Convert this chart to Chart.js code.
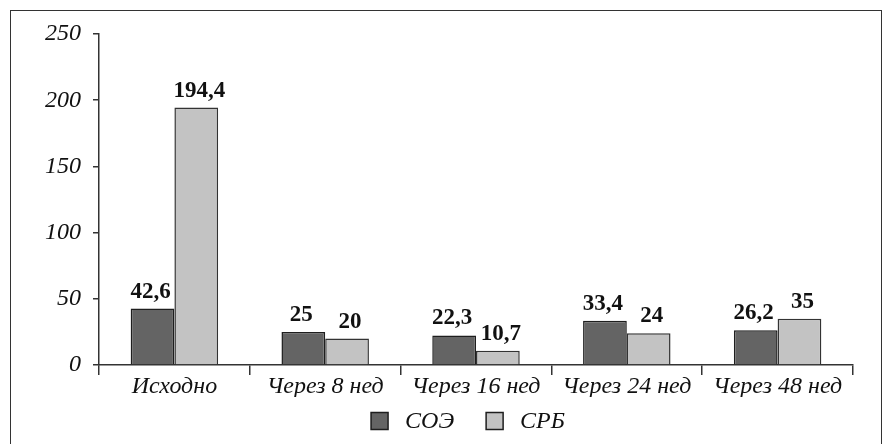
<!DOCTYPE html>
<html>
<head>
<meta charset="utf-8">
<script src="https://cdn.jsdelivr.net/npm/chart.js@4"></script>
<style>
  html, body { margin: 0; padding: 0; background: #fff; }
  #wrap { width: 883px; height: 444px; position: relative; }
</style>
</head>
<body>
<div id="wrap"><canvas id="chart" width="883" height="444"></canvas></div>
<script>
// données
const categories = ['Исходно', 'Через 8 нед', 'Через 16 нед', 'Через 24 нед', 'Через 48 нед'];
const soe = [42.6, 25, 22.3, 33.4, 26.2];
const crp = [194.4, 20, 10.7, 24, 35];
const yTicks = [0, 50, 100, 150, 200, 250];

const serif = '"Liberation Serif", "Times New Roman", serif';

// cadre autour du graphique
const framePlugin = {
    id: 'frame',
    beforeDraw(chart) {
        const ctx = chart.ctx;
        ctx.save();
        ctx.fillStyle = '#fff';
        ctx.fillRect(0, 0, chart.width, chart.height);
        ctx.strokeStyle = '#333';
        ctx.lineWidth = 1;
        ctx.strokeRect(10.5, 10.5, 871, 460);
        ctx.restore();
    }
};

// valeurs au-dessus des barres
const valuePlugin = {
    id: 'values',
    afterDatasetsDraw(chart) {
        const ctx = chart.ctx;
        ctx.save();
        ctx.font = 'bold 23px ' + serif;
        ctx.fillStyle = '#111';
        ctx.textAlign = 'center';
        ctx.textBaseline = 'alphabetic';
        chart.data.datasets.forEach(function(ds, i) {
            chart.getDatasetMeta(i).data.forEach(function(bar, j) {
                const txt = String(ds.data[j]).replace('.', ',');
                // les étiquettes de la 2e série sont légèrement décalées à droite
                const dx = i === 1 ? 3 : -2;
                ctx.fillText(txt, bar.x + dx, bar.y - 11);
            });
        });
        ctx.restore();
    }
};

// légende en bas (espacement plus large que celle de Chart.js)
const legendPlugin = {
    id: 'bottomLegend',
    afterDraw(chart) {
        const ctx = chart.ctx;
        const box = 17, gapText = 17, gapItem = 32;
        ctx.save();
        ctx.font = 'italic 24px ' + serif;
        ctx.textBaseline = 'middle';
        ctx.textAlign = 'left';
        const items = chart.data.datasets.map(function(ds) {
            return { ds: ds, w: ctx.measureText(ds.label).width };
        });
        let total = 0;
        items.forEach(function(it, i) {
            total += box + gapText + it.w + (i > 0 ? gapItem : 0);
        });
        const area = chart.chartArea;
        let x = (area.left + area.right) / 2 - total / 2 - 8;
        const cy = 421;
        items.forEach(function(it) {
            ctx.fillStyle = it.ds.backgroundColor;
            ctx.fillRect(x, cy - box / 2, box, box);
            ctx.strokeStyle = '#1e1e1e';
            ctx.lineWidth = 1.5;
            ctx.strokeRect(x, cy - box / 2, box, box);
            ctx.fillStyle = '#111';
            ctx.fillText(it.ds.label, x + box + gapText, cy + 1);
            x += box + gapText + it.w + gapItem;
        });
        ctx.restore();
    }
};

new Chart(document.getElementById('chart').getContext('2d'), {
    type: 'bar',
    data: {
        labels: categories,
        datasets: [{
            label: 'СОЭ',
            data: soe,
            backgroundColor: '#646464',
            borderColor: '#1e1e1e',
            borderWidth: 1.5
        }, {
            label: 'СРБ',
            data: crp,
            backgroundColor: '#c3c3c3',
            borderColor: '#333',
            borderWidth: 1.5
        }]
    },
    options: {
        responsive: false,
        animation: false,
        categoryPercentage: 0.58,
        barPercentage: 1,
        layout: { padding: { top: 34, right: 30, left: 20, bottom: 47 } },
        plugins: {
            legend: { display: false },
            tooltip: { enabled: false }
        },
        scales: {
            x: {
                afterFit(axis) { axis.height = 32; },
                grid: {
                    offset: true,
                    drawOnChartArea: false,
                    drawTicks: true,
                    tickLength: 10,
                    color: '#333',
                    lineWidth: 1.5
                },
                border: { color: '#333', width: 1.5 },
                ticks: {
                    color: '#111',
                    padding: 0,
                    maxRotation: 0,
                    font: { family: serif, size: 24, style: 'italic', lineHeight: 1 }
                }
            },
            y: {
                min: 0,
                max: 250,
                afterBuildTicks(axis) {
                    axis.ticks = yTicks.map(function(v) { return { value: v }; });
                },
                afterFit(axis) { axis.width = 79; },
                grid: {
                    drawOnChartArea: false,
                    drawTicks: true,
                    tickLength: 6,
                    color: '#333',
                    lineWidth: 1.5
                },
                border: { color: '#333', width: 1.5 },
                ticks: {
                    color: '#111',
                    padding: 12,
                    font: { family: serif, size: 24, style: 'italic' }
                }
            }
        }
    },
    plugins: [framePlugin, valuePlugin, legendPlugin]
});
</script>
</body>
</html>
